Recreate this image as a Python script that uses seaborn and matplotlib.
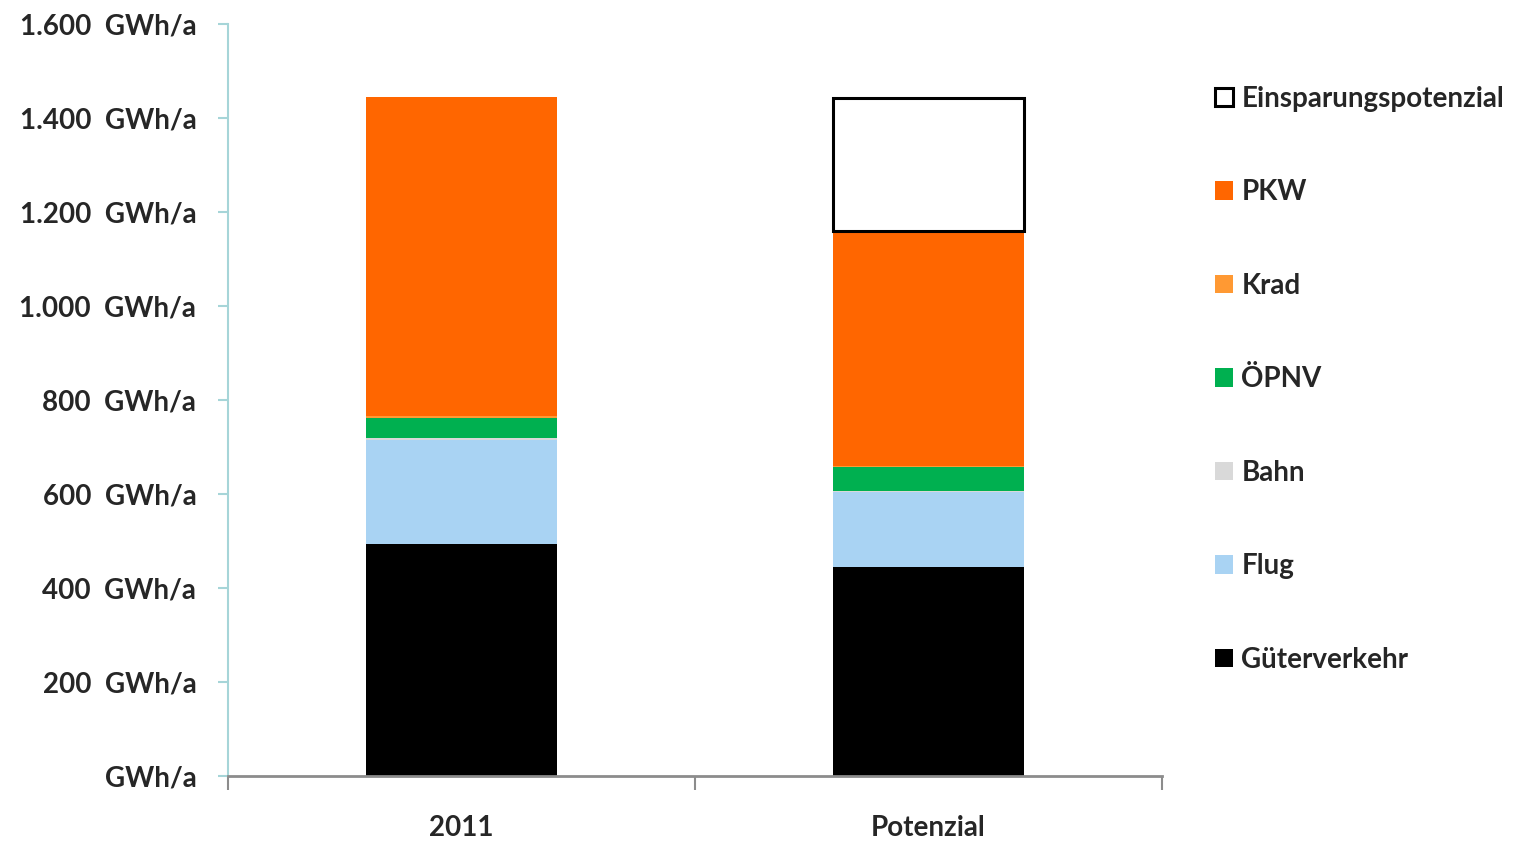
import numpy as np
import pandas as pd
import seaborn as sns
import matplotlib.pyplot as plt
from matplotlib.ticker import FuncFormatter

# --- Daten (GWh/a) ---
kategorien = ["2011", "Potenzial"]
gueterverkehr = [494, 445]
flug = [221, 159]
bahn = [4, 3]
oepnv = [43, 50]
krad = [4, 3]
pkw = [679, 500]
einsparung = [0, 283]

segmente = ["Güterverkehr", "Flug", "Bahn", "ÖPNV", "Krad", "PKW", "Einsparungspotenzial"]
werte = [gueterverkehr, flug, bahn, oepnv, krad, pkw, einsparung]
farben = ["#000000", "#A9D3F3", "#D9D9D9", "#00B050", "#FF9933", "#FF6600", "#FFFFFF"]

sns.set_style("white")
plt.rcParams["font.family"] = ["Lato", "DejaVu Sans"]
plt.rcParams["font.weight"] = "bold"

fig = plt.figure(figsize=(15.22, 8.41), dpi=100)
ax = fig.add_axes([0.15, 0.0773, 0.6135, 0.8942])

bottom = np.zeros(len(kategorien))
for name, vals, farbe in zip(segmente, werte, farben):
    df = pd.DataFrame({"kat": kategorien, "wert": vals, "unten": bottom.copy()})
    df = df[df["wert"] > 0]  # leere Segmente nicht zeichnen
    if name == "Einsparungspotenzial":
        kw = dict(edgecolor="black", linewidth=2.2)
    else:
        kw = dict(edgecolor="none", linewidth=0)
    sns.barplot(data=df, x="kat", y="wert", order=kategorien, color=farbe, saturation=1,
                width=0.41, bottom=df["unten"].to_numpy(), label=name, ax=ax, **kw)
    bottom += np.array(vals)

if ax.get_legend() is not None:
    ax.get_legend().remove()

ax.set_ylim(0, 1600)
ax.set_xlim(-0.5, 1.5)
ax.set_yticks(range(0, 1601, 200))
ax.yaxis.set_major_formatter(FuncFormatter(
    lambda v, p: "GWh/a" if v == 0 else f"{int(v):,}".replace(",", ".") + "  GWh/a"))
ax.set_xlabel("")
ax.set_ylabel("")

for s in ["top", "right"]:
    ax.spines[s].set_visible(False)
ax.spines["left"].set_color("#A6D5D8")
ax.spines["left"].set_linewidth(1.5)
ax.spines["bottom"].set_color("#8C8C8C")
ax.spines["bottom"].set_linewidth(2)

ax.tick_params(axis="y", which="major", direction="out", length=7, width=1.5,
               color="#A6D5D8", labelsize=20, pad=16, left=True)
ax.tick_params(axis="x", which="major", length=0, labelsize=20, pad=28)
ax.set_xticks([-0.5, 0.5, 1.5], minor=True)
ax.tick_params(axis="x", which="minor", direction="out", length=10, width=1.5,
               color="#8C8C8C", bottom=True)

handles, labels = ax.get_legend_handles_labels()
fig.legend(handles[::-1], labels[::-1], loc="upper left", bbox_to_anchor=(0.791, 0.911),
           frameon=False, fontsize=20, handlelength=0.65, handleheight=0.65,
           handletextpad=0.3, labelspacing=2.43, borderaxespad=0)

fig.savefig("out.png", dpi=100)
